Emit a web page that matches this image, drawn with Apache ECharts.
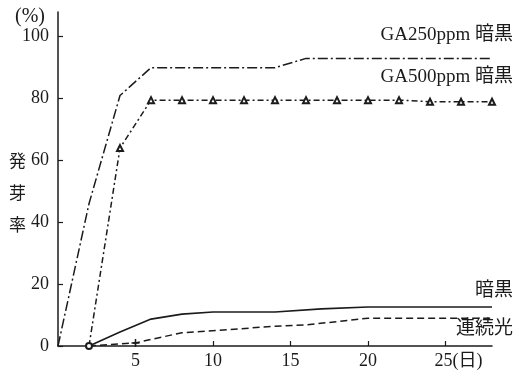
<!DOCTYPE html>
<html>
<head>
<meta charset="utf-8">
<script src="https://cdn.jsdelivr.net/npm/echarts@6/dist/echarts.min.js"></script>
<style>
  html, body { margin: 0; padding: 0; background: #fff; }
  #chart { width: 517px; height: 370px; }
</style>
</head>
<body>
<div id="chart"></div>
<script>
// 日数 vs 発芽率 (%)
const ga250Dark = [[0, 0], [2, 46], [4, 81], [6, 90], [14, 90], [16, 93], [28, 93]];
const ga500Dark = [[2, 0], [4, 64], [6, 79.5], [8, 79.5], [10, 79.5], [12, 79.5], [14, 79.5],
  [16, 79.5], [18, 79.5], [20, 79.5], [22, 79.5], [24, 79], [26, 79], [28, 79]];
const dark = [[2, 0], [4, 4.5], [6, 8.7], [8, 10.3], [10, 11], [14, 11], [17, 12], [20, 12.6], [28, 12.6]];
const contLight = [[2, 0], [5, 1], [8, 4.3], [11, 5.3], [14, 6.4], [16, 6.8], [20, 9], [28, 9]];

const xTicks = [5, 10, 15, 20, 25];
const yTicks = [0, 20, 40, 60, 80, 100];
const seriesNames = ["GA250ppm 暗黒", "GA500ppm 暗黒", "暗黒", "連続光"];

const INK = "#1b1b1b";
const SERIF = "'Liberation Serif', 'Noto Sans CJK JP', serif";

const chart = echarts.init(document.getElementById("chart"));

chart.setOption({
  animation: false,
  backgroundColor: "#fff",
  grid: { left: 58, right: 25, top: 12, bottom: 23 },
  xAxis: {
    type: "value",
    min: 0,
    max: 28,
    splitLine: { show: false },
    axisLine: { lineStyle: { color: INK, width: 1.5 } },
    axisTick: { inside: true, length: 5, customValues: xTicks, lineStyle: { color: INK, width: 1.2 } },
    axisLabel: {
      customValues: xTicks,
      margin: 6,
      color: INK,
      fontFamily: SERIF,
      fontSize: 18,
      formatter: (v) => (v === 25 ? "{p|}25(日)" : String(v)),
      rich: { p: { width: 26 } },
    },
  },
  yAxis: {
    type: "value",
    min: 0,
    max: 108,
    splitLine: { show: false },
    axisLine: { show: true, lineStyle: { color: INK, width: 1.5 } },
    axisTick: { show: true, inside: true, length: 5, customValues: yTicks, lineStyle: { color: INK, width: 1.2 } },
    axisLabel: {
      customValues: yTicks,
      margin: 9,
      color: INK,
      fontFamily: SERIF,
      fontSize: 18,
    },
  },
  series: [
    {
      name: seriesNames[0],
      type: "line",
      data: ga250Dark,
      showSymbol: false,
      lineStyle: { color: INK, width: 1.5, type: [10, 3, 2, 3] },
    },
    {
      name: seriesNames[1],
      type: "line",
      data: ga500Dark,
      symbol: (v) => (v[0] === 2 ? "emptyCircle" : "emptyTriangle"),
      symbolSize: 6,
      itemStyle: { color: INK, borderWidth: 1 },
      lineStyle: { color: INK, width: 1.5, type: [6, 3, 2, 3] },
    },
    {
      name: seriesNames[2],
      type: "line",
      data: dark,
      showSymbol: false,
      lineStyle: { color: INK, width: 1.6, type: "solid" },
    },
    {
      name: seriesNames[3],
      type: "line",
      data: contLight,
      symbol: (v) => (v[0] === 5 ? "path://M0,5L10,5M5,0L5,10" : "none"),
      symbolSize: 8,
      itemStyle: { color: "none", borderColor: INK, borderWidth: 1.5 },
      lineStyle: { color: INK, width: 1.5, type: [7, 4] },
    },
  ],
  graphic: [
    { type: "text", left: 15, top: 7, style: { text: "(%)", font: "20px " + SERIF, fill: INK } },
    {
      type: "text", left: 9, top: 145,
      style: { text: "発\n芽\n率", font: "17px 'Noto Sans CJK JP'", lineHeight: 32, fill: INK },
    },
    { type: "text", right: 4, top: 26, style: { text: seriesNames[0], font: "19px " + SERIF, fill: INK } },
    { type: "text", right: 4, top: 68, style: { text: seriesNames[1], font: "19px " + SERIF, fill: INK } },
    { type: "text", right: 4, top: 282, style: { text: seriesNames[2], font: "19px " + SERIF, fill: INK } },
    { type: "text", right: 4, top: 320, style: { text: seriesNames[3], font: "19px " + SERIF, fill: INK } },
  ],
});
</script>
</body>
</html>
